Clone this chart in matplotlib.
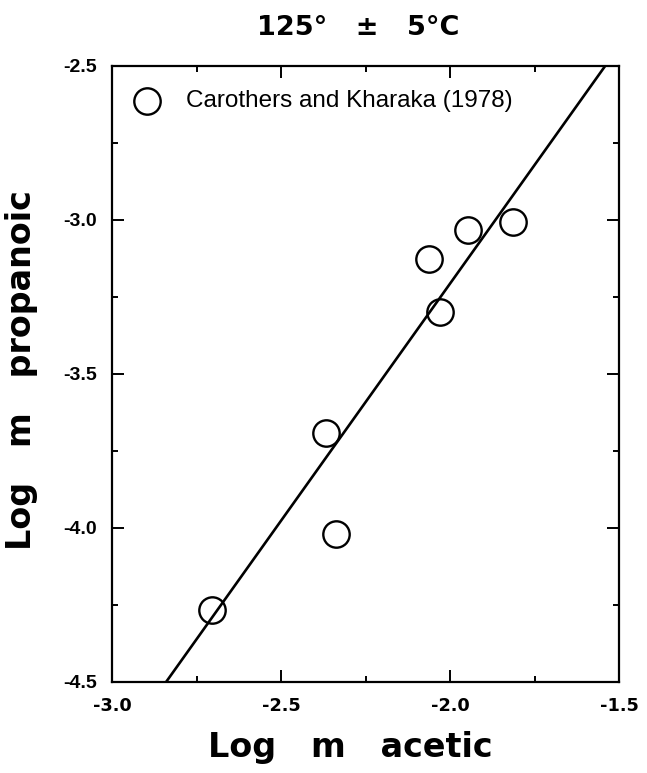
"""Log propanoic vs log acetic molality scatter with fitted trend line."""
import matplotlib
matplotlib.use("Agg")
import matplotlib.pyplot as plt
from matplotlib.ticker import MultipleLocator, FuncFormatter

# Carothers and Kharaka (1978), 125 +/- 5 C
log_acetic = [-2.705, -2.368, -2.337, -2.061, -2.030, -1.946, -1.815]
log_propanoic = [-4.266, -3.693, -4.019, -3.128, -3.299, -3.033, -3.008]

# trend line end points
fit_x = [-2.84, -1.541]
fit_y = [-4.5, -2.5]

x_ticks = [-3.0, -2.5, -2.0, -1.5]
y_ticks = [-2.5, -3.0, -3.5, -4.0, -4.5]

W, H = 647, 773
fig = plt.figure(figsize=(W / 100, H / 100), dpi=100)
fig.patch.set_facecolor("white")

ax = fig.add_axes([112 / W, 1 - 682 / H, 507 / W, 616 / H])
ax.set_xlim(-3.0, -1.5)
ax.set_ylim(-4.5, -2.5)

ax.plot(fit_x, fit_y, color="black", lw=1.9, solid_capstyle="butt")
ax.plot(log_acetic, log_propanoic, "o", ms=19, mfc="none", mec="black", mew=1.7,
        clip_on=False)

for spine in ax.spines.values():
    spine.set_linewidth(1.6)

ax.set_xticks(x_ticks)
ax.set_yticks(y_ticks)
ax.xaxis.set_minor_locator(MultipleLocator(0.25))
ax.yaxis.set_minor_locator(MultipleLocator(0.25))
ax.tick_params(which="both", direction="in", top=True, right=True, width=1.4)
ax.tick_params(which="major", length=8.5)
ax.tick_params(which="minor", length=4.5)
ax.xaxis.set_major_formatter(FuncFormatter(lambda v, p: f"{v:.1f}"))
ax.yaxis.set_major_formatter(FuncFormatter(lambda v, p: f"{v:.1f}"))
ax.tick_params(axis="x", pad=11)
ax.tick_params(axis="y", pad=11)
for lbl in ax.get_xticklabels():
    lbl.set_fontfamily("DejaVu Sans")
    lbl.set_fontweight("bold")
    lbl.set_fontsize(12.8)
for lbl in ax.get_yticklabels():
    lbl.set_fontfamily("Liberation Sans")
    lbl.set_fontweight("bold")
    lbl.set_fontsize(14)

# legend drawn by hand in the upper-left corner
ax.plot([0.069], [0.943], "o", ms=19, mfc="none", mec="black", mew=1.7,
        transform=ax.transAxes)
ax.text(0.146, 0.943, "Carothers and Kharaka (1978)", transform=ax.transAxes,
        ha="left", va="center", fontsize=17.5, family="Liberation Sans")

fig.text(358 / W, 1 - 35 / H, "125°   ±   5°C", ha="center", va="baseline",
         fontsize=19.5, fontweight="bold", family="DejaVu Sans")
fig.text(350 / W, 1 - 757 / H, "Log   m   acetic", ha="center", va="baseline",
         fontsize=24, fontweight="bold", family="DejaVu Sans")
fig.text(22 / W, 1 - 370 / H, "Log   m   propanoic", ha="center", va="center",
         rotation=90, fontsize=24, fontweight="bold", family="DejaVu Sans")

fig.savefig("out.png", dpi=100, facecolor="white")
